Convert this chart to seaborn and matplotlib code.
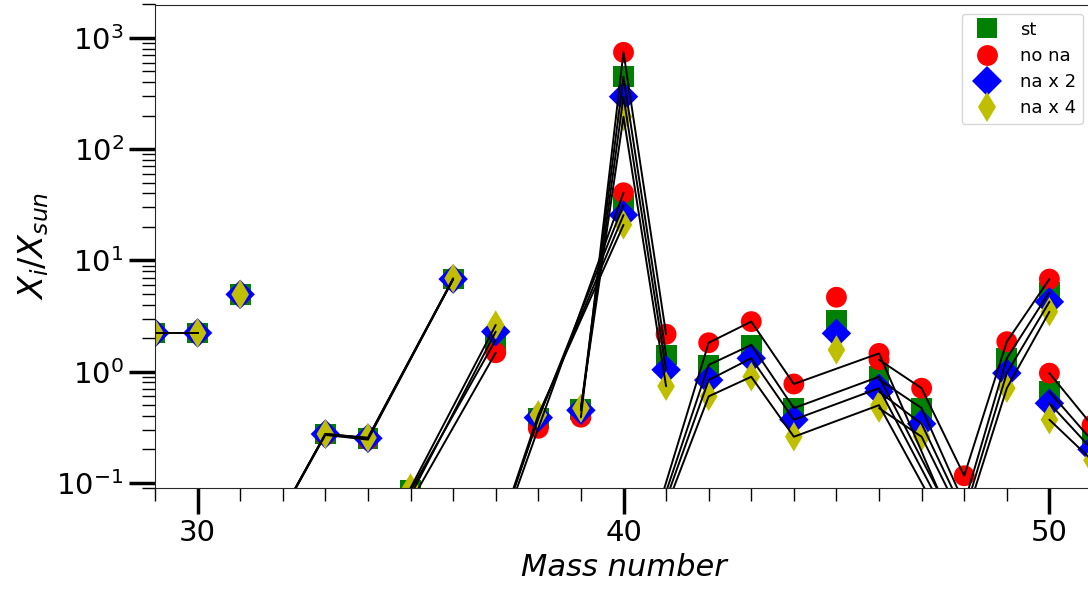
import numpy as np
import pandas as pd
import matplotlib
matplotlib.use("Agg")
import matplotlib.pyplot as plt
from matplotlib.ticker import MultipleLocator, LogLocator, NullFormatter
import seaborn as sns

# isotopes shown (mass number, element)
mass = [29, 30, 31, 32, 33, 34, 36, 35, 37, 36, 38, 40, 39, 40, 41,
        40, 42, 43, 44, 46, 48, 45, 46, 47, 48, 49, 50, 50, 51]
element = ["Si", "Si", "P", "S", "S", "S", "S", "Cl", "Cl", "Ar", "Ar", "Ar", "K", "K", "K",
           "Ca", "Ca", "Ca", "Ca", "Ca", "Ca", "Sc", "Ti", "Ti", "Ti", "Ti", "Ti", "V", "V"]

# X_i / X_sun for each run
st = [2.23, 2.23, 4.95, 0.056, 0.275, 0.252, 6.8, 0.085, 1.93, 0.0022, 0.38, 31.5, 0.46, 449, 1.41,
      0.006, 1.15, 1.74, 0.47, 0.90, 0.03, 2.9, 0.85, 0.47, 0.065, 1.32, 5.2, 0.66, 0.24]
no_na = [2.23, 2.23, 4.9, 0.055, 0.27, 0.245, 6.8, 0.067, 1.48, 0.0022, 0.31, 40.6, 0.39, 743, 2.17,
         0.0056, 1.82, 2.82, 0.775, 1.46, 0.025, 4.67, 1.28, 0.71, 0.116, 1.86, 6.8, 0.97, 0.33]
na_x2 = [2.23, 2.23, 4.95, 0.056, 0.275, 0.252, 6.8, 0.077, 2.29, 0.0022, 0.386, 25.6, 0.45, 297, 1.04,
         0.006, 0.84, 1.32, 0.37, 0.71, 0.025, 2.21, 0.66, 0.34, 0.053, 0.97, 4.25, 0.52, 0.2]
na_x4 = [2.23, 2.23, 4.95, 0.056, 0.275, 0.255, 6.9, 0.09, 2.63, 0.0022, 0.41, 20.9, 0.47, 196, 0.74,
         0.006, 0.6, 0.9, 0.26, 0.5, 0.02, 1.57, 0.47, 0.26, 0.044, 0.71, 3.46, 0.37, 0.16]

runs = ["st", "no na", "na x 2", "na x 4"]
colors = {"st": "g", "no na": "r", "na x 2": "b", "na x 4": "y"}
markers = {"st": "s", "no na": "o", "na x 2": "D", "na x 4": "d"}

frames = []
for run, vals in zip(runs, [st, no_na, na_x2, na_x4]):
    d = pd.DataFrame({"mass": mass, "ratio": vals, "element": element})
    d["run"] = run
    d["track"] = d["element"] + "_" + run
    frames.append(d)
df = pd.concat(frames, ignore_index=True)

sns.set_style("ticks")
plt.rcParams.update({"text.color": "k", "axes.labelcolor": "k",
                     "xtick.color": "k", "ytick.color": "k"})
fig = plt.figure(figsize=(10.88, 5.9), dpi=100)
ax = fig.add_axes([155 / 1088, 102 / 590, 937 / 1088, 483.5 / 590])
ax.set_yscale("log")

sns.scatterplot(data=df, x="mass", y="ratio", hue="run", style="run", palette=colors,
                markers=markers, s=225, linewidth=0, ax=ax)
sns.lineplot(data=df, x="mass", y="ratio", units="track", estimator=None, color="k",
             lw=1.4, ax=ax, legend=False, sort=True)

ax.set_xlim(29, 51)
ax.set_ylim(0.09, 2000)

ax.xaxis.set_major_locator(MultipleLocator(10))
ax.xaxis.set_minor_locator(MultipleLocator(1))
ax.yaxis.set_major_locator(LogLocator(base=10))
ax.yaxis.set_minor_locator(LogLocator(base=10, subs=np.arange(2, 10)))
ax.yaxis.set_minor_formatter(NullFormatter())

ax.tick_params(which="major", length=19, width=2.5, labelsize=21, color="k", labelcolor="k")
ax.tick_params(which="minor", length=9.5, width=1.0, color="k")

ax.set_xlabel("Mass number", fontsize=22, fontstyle="italic", color="k")
ax.set_ylabel(r"$X_i/X_{sun}$", fontsize=24, color="k")

handles, labels = ax.get_legend_handles_labels()
for h in handles:
    if hasattr(h, "set_markersize"):
        h.set_markersize(15)
leg = ax.legend(handles, labels, loc="upper right", fontsize=13, labelspacing=0.45)
for t in leg.get_texts():
    t.set_color("k")

fig.savefig("out.png", dpi=100)
